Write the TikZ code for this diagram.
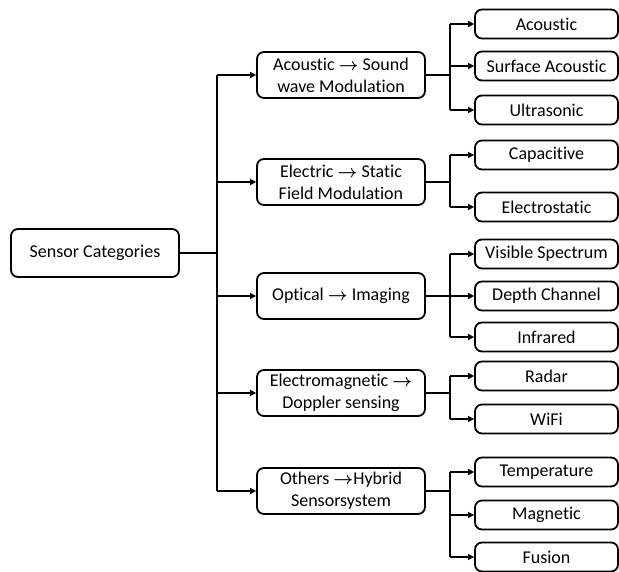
\documentclass[tikz,border=0pt]{standalone}
\usepackage{fontspec}
\setmainfont{Carlito}[Ligatures={NoCommon,NoRare,NoDiscretionary,NoContextual}]
\usetikzlibrary{arrows.meta}
\newcommand{\ra}{{\fontsize{17}{17}\selectfont\boldmath$\rightarrow$}}
\begin{document}
\begin{tikzpicture}[x=1pt,y=-1pt,
  box/.style={draw, line width=1.8pt, rounded corners=7pt, align=center, inner sep=0pt,
    font=\fontsize{18}{22}\selectfont},
  rootbox/.style={box, minimum width=168pt, minimum height=48pt},
  midbox/.style={box, minimum width=168pt, minimum height=46pt},
  leafbox/.style={box, minimum width=143pt, minimum height=29pt},
  ln/.style={line width=1.8pt},
  arr/.style={line width=1.8pt, -{Triangle[length=6pt,width=6pt]}}]
\useasboundingbox (0,0) rectangle (619,572);

\node[rootbox] (root) at (95,253) {Sensor Categories};

\node[midbox] (m1) at (341,75) {Acoustic \ra{} Sound\\wave Modulation};
\node[midbox] (m2) at (341,182) {Electric \ra{} Static\\Field Modulation};
\node[midbox] (m3) at (341,296) {Optical \ra{} Imaging};
\node[midbox] (m4) at (341,393) {Electromagnetic \ra{}\\Doppler sensing};
\node[midbox] (m5) at (341,491) {Others \ra{}Hybrid\\Sensorsystem};

\node[leafbox] (l1) at (546.5,24) {Acoustic};
\node[leafbox] (l2) at (546.5,66) {Surface Acoustic};
\node[leafbox] (l3) at (546.5,110) {Ultrasonic};
\node[leafbox] (l4) at (546.5,155) {Capacitive};
\node[leafbox] (l5) at (546.5,207) {Electrostatic};
\node[leafbox] (l6) at (546.5,254) {Visible Spectrum};
\node[leafbox] (l7) at (546.5,296) {Depth Channel};
\node[leafbox] (l8) at (546.5,337) {Infrared};
\node[leafbox] (l9) at (546.5,376) {Radar};
\node[leafbox] (l10) at (546.5,419) {WiFi};
\node[leafbox] (l11) at (546.5,472) {Temperature};
\node[leafbox] (l12) at (546.5,515) {Magnetic};
\node[leafbox] (l13) at (546.5,557) {Fusion};

% root to mid
\coordinate (j) at (217,253);
\draw[ln] (root.east) -- (j);
\draw[ln] (j |- m1.west) -- (j |- m5.west);
\foreach \m in {m1,m2,m3,m4,m5} \draw[arr] (j |- \m.west) -- (\m.west);

% mid to leaves
\coordinate (b) at (450,0);
\newcommand{\branch}[3]{%
  \draw[ln] (#1.east) -- (b |- #1.east);
  \draw[ln] (b |- #2.west) -- (b |- #3.west);
}
\branch{m1}{l1}{l3}
\branch{m2}{l4}{l5}
\branch{m3}{l6}{l8}
\branch{m4}{l9}{l10}
\branch{m5}{l11}{l13}
\foreach \l in {l1,l2,l3,l4,l5,l6,l7,l8,l9,l10,l11,l12,l13} \draw[arr] (b |- \l.west) -- (\l.west);
\end{tikzpicture}
\end{document}
